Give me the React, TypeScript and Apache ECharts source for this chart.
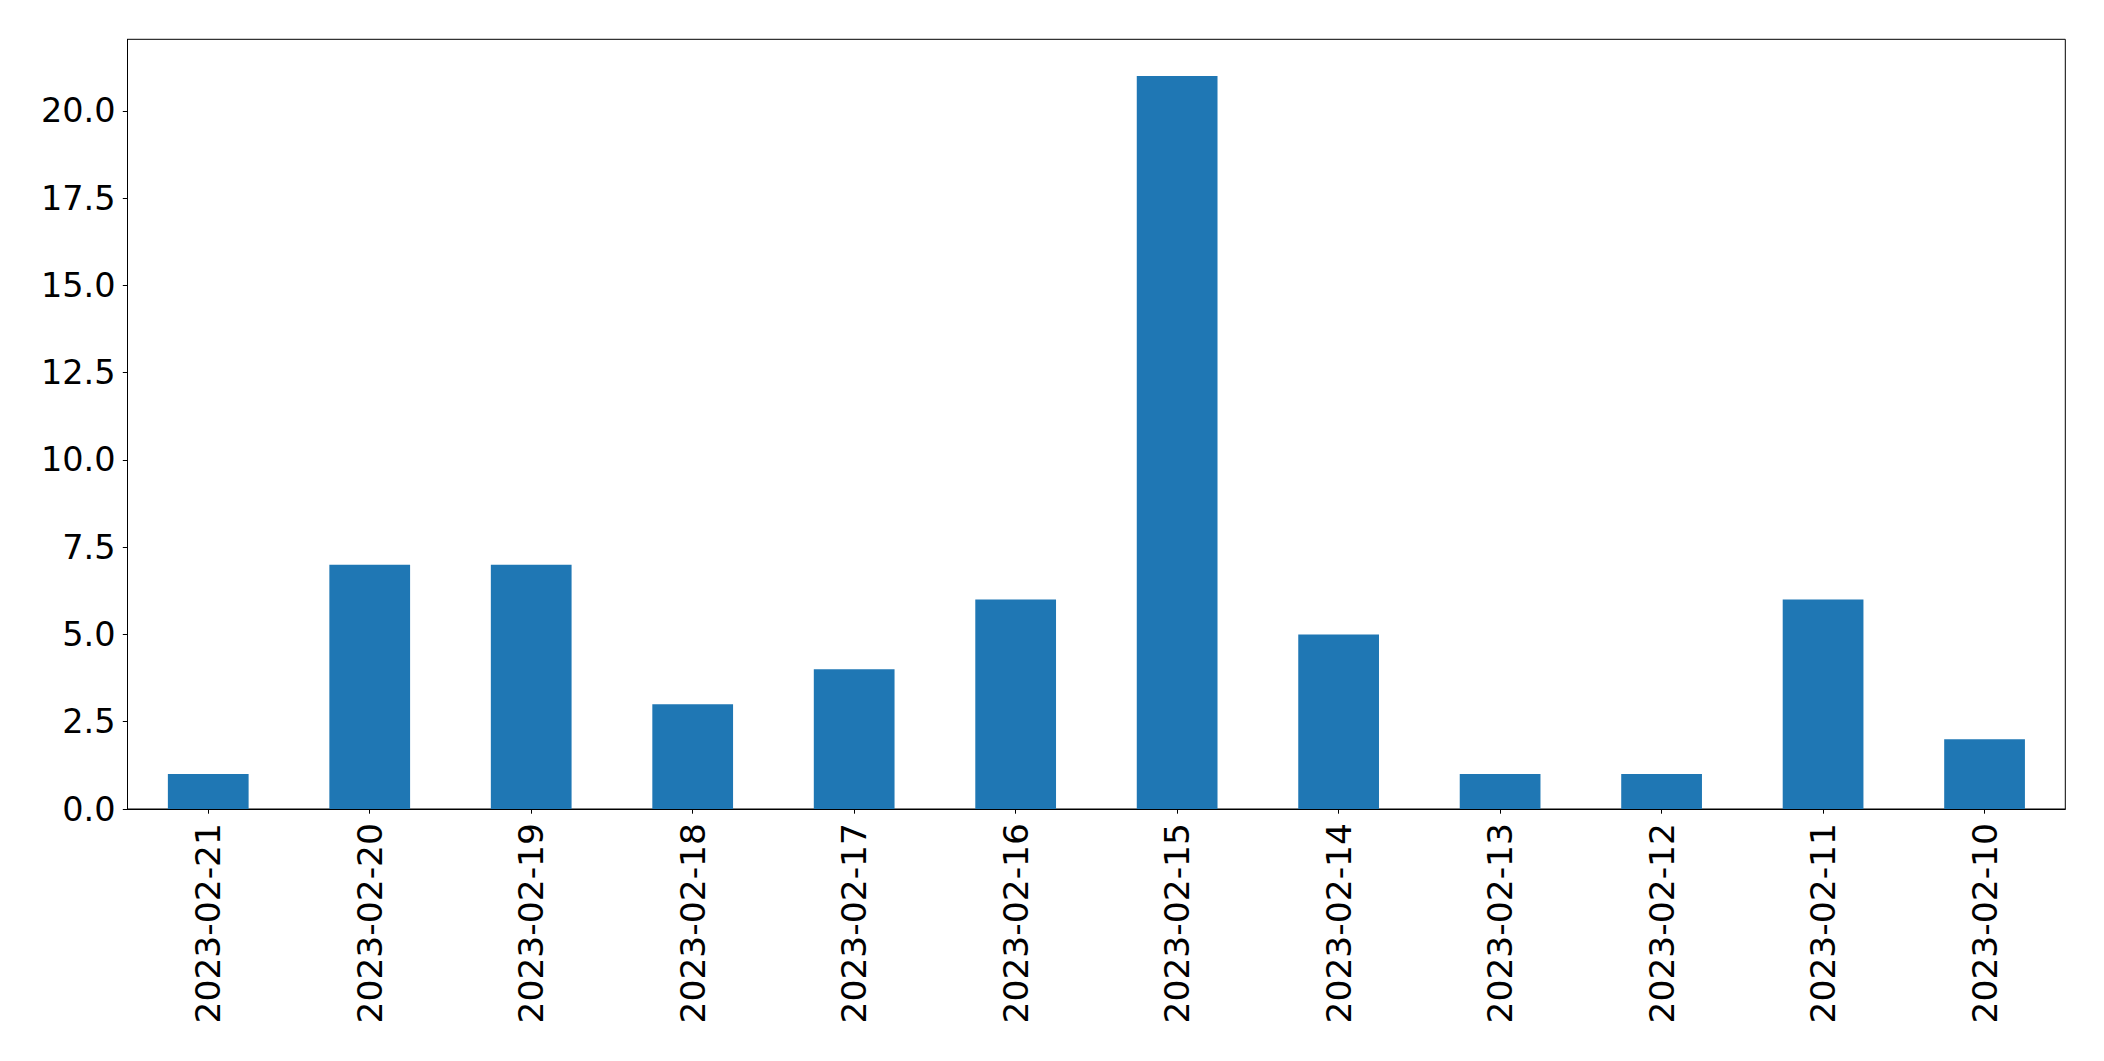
import React, { useEffect, useRef } from "react";
import * as echarts from "echarts";

const categories = [
  "2023-02-21", "2023-02-20", "2023-02-19", "2023-02-18", "2023-02-17", "2023-02-16",
  "2023-02-15", "2023-02-14", "2023-02-13", "2023-02-12", "2023-02-11", "2023-02-10",
];
const values = [1, 7, 7, 3, 4, 6, 21, 5, 1, 1, 6, 2];
const yMin = 0;
const yMax = 22.05;
const yInterval = 2.5;

export default function App() {
  const ref = useRef<HTMLDivElement>(null);
  useEffect(() => {
    if (!ref.current) return;
    const chart = echarts.init(ref.current, null, { renderer: "svg" });
    const font = "DejaVu Sans";
    chart.setOption({
      animation: false,
      backgroundColor: "#ffffff",
      grid: {
        left: 127.5,
        top: 39.3,
        right: 38.7,
        bottom: 252,
        show: true,
        borderColor: "#000000",
        borderWidth: 1,
        backgroundColor: "transparent",
      },
      xAxis: {
        type: "category",
        data: categories,
        boundaryGap: true,
        axisLine: { show: true, lineStyle: { color: "#000000", width: 1 } },
        axisTick: { show: true, alignWithLabel: true, length: 4.7, lineStyle: { color: "#000000", width: 1 } },
        axisLabel: {
          rotate: 90,
          interval: 0,
          margin: 14,
          fontFamily: font,
          fontSize: 34.5,
          color: "#000000",
        },
        splitLine: { show: false },
      },
      yAxis: {
        type: "value",
        min: yMin,
        max: yMax,
        interval: yInterval,
        axisLine: { show: true, lineStyle: { color: "#000000", width: 1 } },
        axisTick: { show: true, length: 4.7, lineStyle: { color: "#000000", width: 1 } },
        axisLabel: {
          margin: 12,
          fontFamily: font,
          fontSize: 33.5,
          color: "#000000",
          showMaxLabel: false,
          formatter: (v: number) => (Math.abs(v / yInterval - Math.round(v / yInterval)) < 1e-6 ? v.toFixed(1) : ""),
        },
        splitLine: { show: false },
      },
      series: [
        {
          type: "bar",
          data: values,
          barWidth: "50%",
          itemStyle: { color: "#1f77b4" },
        },
      ],
    });
    return () => chart.dispose();
  }, []);
  return (
    <div
      ref={ref}
      style={{ position: "fixed", left: 0, top: 0, width: 2104, height: 1061, background: "#fff" }}
    />
  );
}
